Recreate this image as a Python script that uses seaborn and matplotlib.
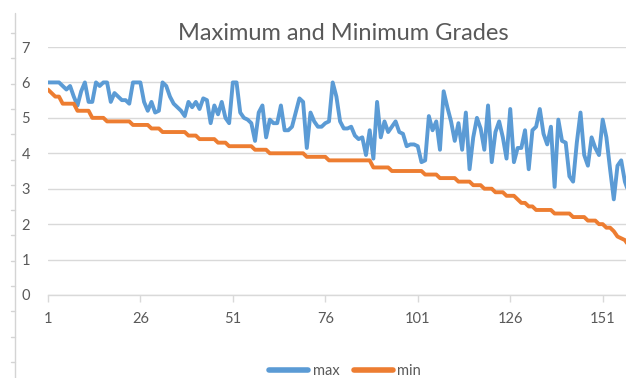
import numpy as np
import pandas as pd
import matplotlib
matplotlib.use("Agg")
import matplotlib.pyplot as plt
from matplotlib.lines import Line2D
import seaborn as sns

# --- data ---
max_grades = [
    6.0, 6.0, 6.0, 6.0, 5.9, 5.8, 5.9, 5.6, 5.35, 5.75,
    6.0, 5.45, 5.45, 6.0, 5.9, 6.0, 6.0, 5.45, 5.7, 5.6,
    5.5, 5.5, 5.4, 6.0, 6.0, 6.0, 5.45, 5.2, 5.45, 5.15,
    5.2, 6.0, 5.9, 5.6, 5.4, 5.3, 5.2, 5.05, 5.45, 5.3,
    5.45, 5.25, 5.55, 5.5, 4.85, 5.35, 5.1, 5.45, 5.0, 4.85,
    6.0, 6.0, 5.15, 5.0, 4.95, 4.85, 4.35, 5.15, 5.35, 4.45,
    4.95, 4.85, 4.85, 5.35, 4.65, 4.65, 4.75, 5.15, 5.55, 5.45,
    4.15, 5.15, 4.9, 4.75, 4.75, 4.85, 4.9, 6.0, 5.6, 4.9,
    4.7, 4.7, 4.75, 4.5, 4.4, 4.45, 3.95, 4.65, 3.85, 5.45,
    4.45, 4.9, 4.6, 4.75, 4.9, 4.6, 4.55, 4.2, 4.25, 4.25,
    4.2, 3.75, 3.8, 5.05, 4.65, 4.9, 4.1, 5.75, 5.3, 4.9,
    4.35, 4.85, 4.1, 5.15, 3.55, 4.45, 5.0, 4.7, 4.1, 5.35,
    3.75, 4.6, 4.9, 4.45, 3.85, 5.25, 3.75, 4.15, 4.15, 4.65,
    3.55, 4.65, 4.75, 5.25, 4.55, 4.25, 4.75, 3.05, 4.95, 4.35,
    4.3, 3.35, 3.2, 4.3, 5.15, 3.95, 3.65, 4.45, 4.15, 3.95,
    4.95, 4.45, 3.55, 2.7, 3.65, 3.8, 3.2, 2.9,
]
min_grades = [
    5.8, 5.7, 5.6, 5.6, 5.4, 5.4, 5.4, 5.4, 5.2, 5.2,
    5.2, 5.2, 5.0, 5.0, 5.0, 5.0, 4.9, 4.9, 4.9, 4.9,
    4.9, 4.9, 4.9, 4.8, 4.8, 4.8, 4.8, 4.8, 4.7, 4.7,
    4.7, 4.6, 4.6, 4.6, 4.6, 4.6, 4.6, 4.6, 4.5, 4.5,
    4.5, 4.4, 4.4, 4.4, 4.4, 4.4, 4.3, 4.3, 4.3, 4.2,
    4.2, 4.2, 4.2, 4.2, 4.2, 4.2, 4.1, 4.1, 4.1, 4.1,
    4.0, 4.0, 4.0, 4.0, 4.0, 4.0, 4.0, 4.0, 4.0, 4.0,
    3.9, 3.9, 3.9, 3.9, 3.9, 3.9, 3.8, 3.8, 3.8, 3.8,
    3.8, 3.8, 3.8, 3.8, 3.8, 3.8, 3.8, 3.8, 3.6, 3.6,
    3.6, 3.6, 3.6, 3.5, 3.5, 3.5, 3.5, 3.5, 3.5, 3.5,
    3.5, 3.5, 3.4, 3.4, 3.4, 3.4, 3.3, 3.3, 3.3, 3.3,
    3.3, 3.2, 3.2, 3.2, 3.2, 3.1, 3.1, 3.1, 3.0, 3.0,
    3.0, 2.9, 2.9, 2.9, 2.8, 2.8, 2.8, 2.7, 2.6, 2.6,
    2.5, 2.5, 2.4, 2.4, 2.4, 2.4, 2.4, 2.3, 2.3, 2.3,
    2.3, 2.3, 2.2, 2.2, 2.2, 2.2, 2.1, 2.1, 2.1, 2.0,
    2.0, 1.9, 1.9, 1.8, 1.65, 1.6, 1.55, 1.4,
]
series_names = ["max", "min"]
series_colors = ["#5B9BD5", "#ED7D31"]
x_ticks = [1, 26, 51, 76, 101, 126, 151]
y_ticks = [0, 1, 2, 3, 4, 5, 6, 7]
chart_title = "Maximum and Minimum Grades"

points = np.arange(1, len(max_grades) + 1)
df = pd.DataFrame({
    "point": np.concatenate([points, points]),
    "grade": max_grades + min_grades,
    "series": [series_names[0]] * len(points) + [series_names[1]] * len(points),
})

sns.set_theme(style="white")
plt.rcParams["font.family"] = ["Lato", "DejaVu Sans"]

W, H = 626, 378
fig = plt.figure(figsize=(W / 100, H / 100), dpi=100)
ax = fig.add_axes([47.9 / W, 1 - 295 / H, 1 - 47.9 / W, (295 - 47) / H])

sns.lineplot(data=df, x="point", y="grade", hue="series", hue_order=series_names,
             palette=dict(zip(series_names, series_colors)), linewidth=2.8,
             ax=ax, legend=False, solid_capstyle="round")

ax.set_xlim(1, 157.3)
ax.set_ylim(0, 7)
ax.set_xticks(x_ticks)
ax.set_yticks(y_ticks)
ax.set_xlabel("")
ax.set_ylabel("")
ax.yaxis.grid(True, color="#D9D9D9", linewidth=1)
ax.set_axisbelow(True)
for s in ["top", "right", "left"]:
    ax.spines[s].set_visible(False)
ax.spines["bottom"].set_color("#D9D9D9")
ax.spines["bottom"].set_linewidth(1)
ax.tick_params(axis="y", length=0, pad=13, labelsize=10.5, labelcolor="#595959")
ax.tick_params(axis="x", length=5, width=1, color="#D9D9D9", pad=7,
               labelsize=10.5, labelcolor="#595959", direction="out", bottom=True)

fig.text(343 / W, 1 - 33 / H, chart_title, ha="center", va="center",
         fontsize=17, color="#595959")

handles = [Line2D([], [], color=c, linewidth=4, solid_capstyle="round") for c in series_colors]
fig.legend(handles, series_names, loc="center", bbox_to_anchor=(345 / W, 1 - 371 / H),
           ncol=2, frameon=False, fontsize=10.5, handlelength=2.7,
           columnspacing=1.0, handletextpad=0.3, labelcolor="#595959")

# spreadsheet row border on the left edge
fig.add_artist(Line2D([15 / W, 15 / W], [0, 1 - 13 / H], color="#D4D4D4", linewidth=1))
for py in np.arange(33, H, 25.3):
    fig.add_artist(Line2D([11 / W, 15 / W], [1 - py / H, 1 - py / H], color="#D4D4D4", linewidth=1))

fig.savefig("out.png", dpi=100)
